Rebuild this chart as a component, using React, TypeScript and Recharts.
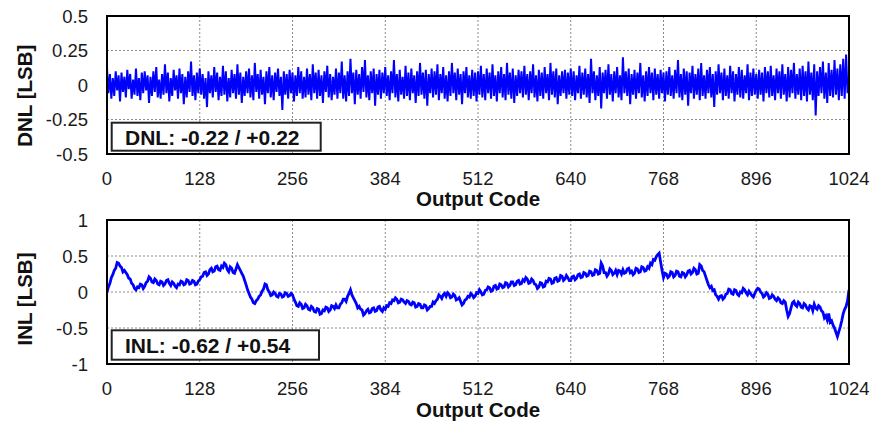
import React from 'react';
import { LineChart, Line, XAxis, YAxis, CartesianGrid } from 'recharts';

// ---------- data ----------
const xTicks = [0, 128, 256, 384, 512, 640, 768, 896, 1024];
const dnlTicks = [-0.5, -0.25, 0, 0.25, 0.5];
const inlTicks = [-1, -0.5, 0, 0.5, 1];
const dnlStep = 2; // output codes between DNL samples
const inlStep = 2; // output codes between INL samples

const dnlValues = [
  .12,-.06,.08,-.1,.05,-.08,.1,-.04, .07,-.12,.09,-.05,.06,-.09,.11,-.03, .08,-.1,.04,-.07,.12,-.08,.05,-.11, .09,-.06,.1,-.04,.07,-.13,.06,-.08,
  .1,-.05,.13,-.09,.04,-.1,.08,-.07, .15,-.06,.09,-.12,.05,-.08,.11,-.04, .07,-.1,.12,-.06,.08,-.14,.06,-.09, .1,-.05,.17,-.08,.07,-.11,.09,-.06,
  .12,-.07,.08,-.1,.05,-.16,.1,-.06, .07,-.09,.13,-.05,.09,-.11,.06,-.08, .14,-.07,.1,-.12,.05,-.09,.11,-.06, .08,-.1,.15,-.07,.09,-.13,.06,-.08,
  .1,-.06,.12,-.09,.07,-.11,.16,-.05, .08,-.1,.11,-.07,.06,-.14,.1,-.06, .13,-.09,.07,-.11,.09,-.05,.12,-.08, .06,-.18,.1,-.07,.08,-.1,.11,-.06,
  .09,-.12,.07,-.08,.13,-.06,.1,-.1, .06,-.09,.12,-.07,.08,-.11,.15,-.06, .09,-.1,.11,-.08,.07,-.13,.1,-.05, .14,-.09,.08,-.11,.06,-.07,.12,-.1,
  .09,-.06,.17,-.1,.07,-.12,.1,-.08, .19,-.06,.09,-.14,.11,-.07,.08,-.1, .13,-.05,.18,-.09,.07,-.11,.1,-.06, .12,-.15,.08,-.07,.11,-.1,.09,-.06,
  .13,-.08,.07,-.11,.1,-.06,.18,-.09, .08,-.12,.11,-.07,.06,-.1,.14,-.08, .09,-.11,.12,-.06,.07,-.13,.1,-.08, .16,-.07,.09,-.1,.11,-.15,.08,-.06,
  .12,-.09,.1,-.07,.15,-.11,.08,-.06, .13,-.1,.07,-.12,.1,-.08,.16,-.06, .09,-.11,.12,-.07,.08,-.14,.1,-.06, .13,-.09,.07,-.1,.11,-.08,.09,-.12,
  .1,-.07,.14,-.09,.08,-.11,.12,-.06, .09,-.1,.15,-.08,.07,-.12,.1,-.06, .13,-.09,.08,-.11,.16,-.07,.09,-.1, .12,-.13,.07,-.08,.11,-.06,.1,-.09,
  .14,-.07,.08,-.11,.1,-.06,.15,-.09, .07,-.12,.11,-.08,.09,-.1,.13,-.06, .08,-.11,.16,-.07,.1,-.09,.12,-.14, .07,-.08,.1,-.06,.11,-.1,.09,-.07,
  .12,-.08,.1,-.11,.07,-.06,.14,-.1, .09,-.07,.12,-.09,.08,-.13,.19,-.06, .1,-.11,.07,-.08,.13,-.17,.09,-.06, .11,-.1,.15,-.07,.08,-.12,.1,-.06,
  .13,-.09,.07,-.11,.2,-.06,.1,-.08, .12,-.14,.08,-.07,.11,-.1,.09,-.06, .16,-.09,.07,-.12,.1,-.08,.13,-.06, .09,-.11,.12,-.07,.08,-.1,.11,-.06,
  .09,-.12,.1,-.07,.13,-.08,.07,-.1, .11,-.06,.18,-.09,.08,-.11,.12,-.07, .1,-.15,.09,-.06,.14,-.1,.08,-.07, .12,-.11,.16,-.08,.07,-.1,.11,-.06,
  .13,-.09,.08,-.16,.1,-.07,.15,-.06, .09,-.11,.12,-.08,.07,-.1,.14,-.06, .1,-.12,.08,-.07,.13,-.09,.11,-.1, .07,-.06,.15,-.11,.09,-.08,.12,-.07,
  .08,-.1,.11,-.07,.09,-.12,.13,-.06, .1,-.09,.14,-.08,.07,-.11,.12,-.06, .1,-.1,.15,-.07,.08,-.12,.13,-.09, .11,-.06,.16,-.1,.08,-.07,.12,-.11,
  .14,-.08,.1,-.12,.17,-.07,.09,-.11, .15,-.22,.1,-.08,.13,-.06,.17,-.1, .09,-.13,.16,-.08,.11,-.09,.18,-.07, .12,-.11,.15,-.08,.19,-.1,.22,-.06,
];

const inlValues = [
  0,.07,.12,.2,.24,.3,.33,.41,.4,.36,.34,.28,.3,.27,.24,.19, .18,.12,.1,.05,.03,.07,.06,.11,.1,.05,.08,.13,.15,.21,.19,.14,
  .13,.18,.16,.11,.1,.15,.14,.09,.11,.16,.17,.12,.09,.14,.12,.08, .06,.11,.1,.15,.14,.1,.11,.17,.16,.11,.12,.16,.15,.1,.11,.15,
  .17,.21,.22,.27,.28,.23,.25,.31,.33,.28,.29,.35,.36,.31,.3,.36, .34,.4,.38,.31,.28,.35,.33,.27,.26,.32,.38,.34,.3,.26,.22,.16,
  .1,.03,-.02,-.07,-.1,-.15,-.16,-.12,-.1,-.06,-.04,.01,.04,.11,.1,.03, 0,-.05,-.04,0,-.02,-.06,-.07,-.02,-.03,-.07,-.06,-.01,-.02,-.06,-.05,-.02,
  -.04,-.1,-.14,-.19,-.2,-.15,-.17,-.23,-.22,-.17,-.19,-.24,-.25,-.2,-.22,-.27, -.28,-.23,-.24,-.31,-.3,-.25,-.26,-.21,-.22,-.27,-.25,-.19,-.2,-.23,-.18,-.22,
  -.22,-.17,-.15,-.1,-.1,-.13,-.06,-.02,.03,-.04,-.08,-.12,-.16,-.22,-.2,-.24, -.25,-.32,-.3,-.26,-.24,-.29,-.28,-.23,-.22,-.27,-.26,-.21,-.2,-.25,-.27,-.22,
  -.24,-.19,-.2,-.15,-.16,-.11,-.12,-.08,-.1,-.15,-.14,-.1,-.11,-.14,-.16,-.12, -.13,-.17,-.18,-.14,-.15,-.21,-.2,-.16,-.17,-.22,-.22,-.18,-.19,-.25,-.23,-.2,
  -.2,-.14,-.16,-.12,-.1,-.04,-.06,-.09,-.04,-.02,-.06,-.01,-.03,-.08,-.07,-.03, -.05,-.11,-.1,-.08,-.13,-.18,-.16,-.11,-.1,-.06,-.07,-.02,-.04,-.08,-.06,-.01,
  -.02,.03,0,-.04,-.03,.02,.03,.07,.06,.01,.02,.08,.09,.04,.05,.11, .1,.06,.07,.13,.12,.07,.09,.14,.14,.09,.1,.15,.16,.11,.12,.17,
  .15,.2,.18,.12,.13,.18,.16,.11,.1,.05,.07,.13,.12,.07,.08,.15, .14,.19,.18,.12,.13,.19,.2,.15,.16,.23,.22,.16,.18,.23,.2,.16,
  .16,.21,.22,.17,.19,.24,.25,.2,.21,.27,.26,.22,.23,.29,.28,.23, .24,.31,.3,.25,.26,.4,.36,.27,.27,.22,.25,.32,.3,.24,.26,.3,
  .24,.3,.29,.25,.31,.26,.27,.32,.33,.27,.29,.24,.26,.33,.32,.27, .28,.35,.34,.29,.3,.35,.33,.4,.38,.45,.44,.49,.52,.54,.42,.3,
  .2,.26,.25,.2,.22,.28,.27,.21,.23,.29,.28,.22,.21,.27,.26,.21, .24,.29,.3,.25,.27,.33,.31,.25,.26,.38,.36,.3,.28,.22,.16,.1,
  .06,.08,.02,.03,-.04,-.06,-.1,-.06,-.05,-.1,-.08,-.03,-.02,.04,.03,-.02, -.03,.03,.02,-.03,-.05,0,-.01,.05,.03,-.01,-.04,.01,-.02,-.05,-.07,-.02,
  .02,.05,.04,0,-.02,-.07,-.05,-.01,-.03,-.09,-.08,-.04,-.06,-.1,-.12,-.08, -.1,-.15,-.16,-.12,-.14,-.25,-.34,-.3,-.22,-.15,-.13,-.18,-.2,-.14,-.16,-.21,
  -.22,-.16,-.18,-.23,-.25,-.19,-.2,-.26,-.17,-.22,-.24,-.19,-.21,-.26,-.28,-.36, -.33,-.39,-.3,-.42,-.4,-.46,-.5,-.56,-.62,-.55,-.48,-.4,-.3,-.24,-.2,-.12,
  .03,
];

const dnlStatText = 'DNL: -0.22 / +0.22';
const inlStatText = 'INL: -0.62 / +0.54';
const xAxisTitle = 'Output Code';
const dnlAxisTitle = 'DNL [LSB]';
const inlAxisTitle = 'INL [LSB]';

const dnlData = dnlValues.map((v, i) => ({ code: i * dnlStep, dnl: v }));
const inlData = inlValues.map((v, i) => ({ code: i * inlStep, inl: v }));

// ---------- styles ----------
const FONT = "'Liberation Sans', Arial, Helvetica, sans-serif";
const tickStyle = { fontSize: 18.5, fill: '#1a1a1a', fontFamily: FONT };
const boldText = { fontFamily: FONT, fontWeight: 700, fontSize: 21, fill: '#111' } as const;
const titleText = { fontFamily: FONT, fontWeight: 700, fontSize: 20.5, fill: '#111' } as const;
const GRID = '#8c8c8c';

const W = 876;
const PLOT_L = 107;
const PLOT_R = 849;

type PanelProps = {
  data: any[];
  dataKey: string;
  domain: [number, number];
  yTicks: number[];
  yTitle: string;
  yTitleCy: number;
  xTitleBaseline: number;
  height: number;
  marginTop: number;
  marginBottom: number;
  strokeWidth: number;
};

function Panel(p: PanelProps) {
  const cx = 25;
  const yLabel = () => (
    <text
      x={cx}
      y={p.yTitleCy}
      dy="0.36em"
      transform={`rotate(-90, ${cx}, ${p.yTitleCy})`}
      textAnchor="middle"
      style={titleText}
    >
      {p.yTitle}
    </text>
  );
  const xLabel = () => (
    <text x={(PLOT_L + PLOT_R) / 2} y={p.xTitleBaseline} textAnchor="middle" style={titleText}>
      {xAxisTitle}
    </text>
  );
  const plotTop = p.marginTop;
  const plotBottom = p.height - p.marginBottom - 50;
  return (
    <div style={{ position: 'relative', width: W, height: p.height }}>
      <LineChart
        width={W}
        height={p.height}
        data={p.data}
        margin={{ top: p.marginTop, right: W - PLOT_R, bottom: p.marginBottom, left: 0 }}
      >
        <CartesianGrid
          stroke={GRID}
          strokeWidth={1}
          strokeDasharray="2 2"
          fill="none"
        />
        <XAxis
          dataKey="code"
          type="number"
          domain={[0, 1024]}
          ticks={xTicks}
          interval={0}
          height={50}
          axisLine={false}
          tickLine={false}
          tickSize={0}
          tickMargin={18}
          tick={tickStyle}
          allowDataOverflow
          label={xLabel}
        />
        <YAxis
          type="number"
          domain={p.domain}
          ticks={p.yTicks}
          interval={0}
          width={PLOT_L}
          axisLine={false}
          tickLine={false}
          tickSize={0}
          tickMargin={19}
          tick={tickStyle}
          allowDataOverflow
          label={yLabel}
        />
        <Line
          type="linear"
          dataKey={p.dataKey}
          stroke="#0000ff"
          strokeWidth={p.strokeWidth}
          dot={false}
          activeDot={false}
          isAnimationActive={false}
        />
      </LineChart>
      <svg
        width={W}
        height={p.height}
        style={{ position: 'absolute', left: 0, top: 0, pointerEvents: 'none' }}
      >
        <rect
          x={PLOT_L}
          y={plotTop}
          width={PLOT_R - PLOT_L}
          height={plotBottom - plotTop}
          fill="none"
          stroke="#000"
          strokeWidth={2}
        />
      </svg>
    </div>
  );
}

export default function App() {
  return (
    <div style={{ position: 'absolute', left: 0, top: 0, width: W, height: 422, background: '#fff' }}>
      <div style={{ position: 'absolute', left: 0, top: 0 }}>
        <Panel
          data={dnlData}
          dataKey="dnl"
          domain={[-0.5, 0.5]}
          yTicks={dnlTicks}
          yTitle={dnlAxisTitle}
          yTitleCy={95.7}
          xTitleBaseline={206}
          height={210}
          marginTop={16}
          marginBottom={6}
          strokeWidth={2}
        />
      </div>
      <div style={{ position: 'absolute', left: 0, top: 210 }}>
        <Panel
          data={inlData}
          dataKey="inl"
          domain={[-1, 1]}
          yTicks={inlTicks}
          yTitle={inlAxisTitle}
          yTitleCy={89}
          xTitleBaseline={207}
          height={212}
          marginTop={10}
          marginBottom={8}
          strokeWidth={2.8}
        />
      </div>
      <svg
        width={W}
        height={422}
        style={{ position: 'absolute', left: 0, top: 0, pointerEvents: 'none' }}
      >
        <rect x={111.7} y={122.7} width={209} height={28} fill="#fff" stroke="#222" strokeWidth={2} />
        <text x={125} y={145} style={boldText}>{dnlStatText}</text>
        <rect x={111.7} y={330.3} width={207.3} height={29.4} fill="#fff" stroke="#222" strokeWidth={2} />
        <text x={125} y={353.3} style={boldText}>{inlStatText}</text>
      </svg>
    </div>
  );
}
